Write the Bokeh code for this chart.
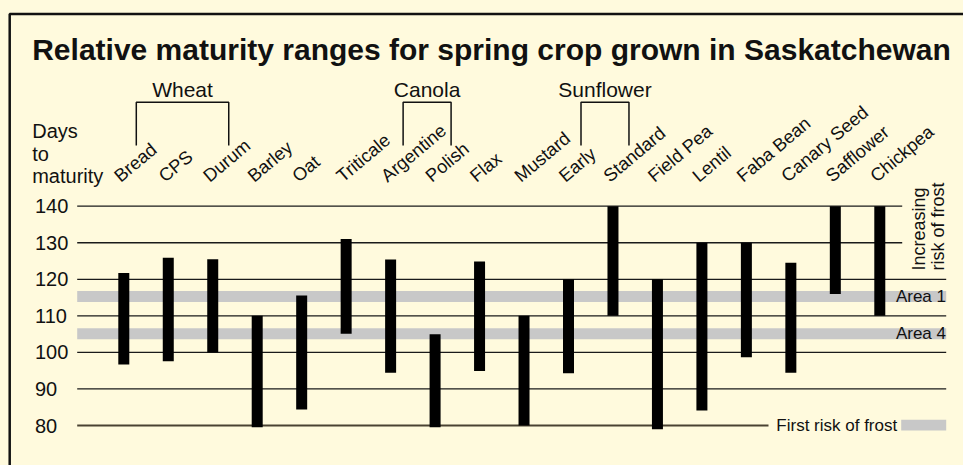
import math
from bokeh.plotting import figure
from bokeh.models import Range1d, ColumnDataSource
from bokeh.core.properties import value
from bokeh.embed import file_html
from bokeh.resources import INLINE

# ---------------- data ----------------
crops = ["Bread", "CPS", "Durum", "Barley", "Oat", "Triticale", "Argentine", "Polish",
         "Flax", "Mustard", "Early", "Standard", "Field Pea", "Lentil", "Faba Bean",
         "Canary Seed", "Safflower", "Chickpea"]
min_days = [96.7, 97.6, 100, 79.5, 84.4, 105.1, 94.4, 79.5, 94.9, 80, 94.3, 110,
            79, 84.1, 98.7, 94.4, 116, 110]
max_days = [121.7, 125.9, 125.5, 110, 115.6, 131, 125.4, 105, 124.9, 110, 120, 140,
            120, 130, 130, 124.5, 140, 140]
groups = ["Wheat", "Canola", "Sunflower"]
group_first = ["Bread", "Argentine", "Early"]
group_last = ["Durum", "Polish", "Standard"]
y_ticks = [80, 90, 100, 110, 120, 130, 140]
frost_areas = ["Area 1", "Area 4"]
frost_low = [113.8, 103.6]
frost_high = [116.8, 106.6]
title = "Relative maturity ranges for spring crop grown in Saskatchewan"

# ---------------- layout helpers ----------------
W, H = 963, 465
PX_CAT = 44.47      # pixels per category
PX_DAY = 3.655      # pixels per day
X0 = 123.3          # page x of first category
Y80 = 425.0         # page y of 80 days
MID = 0.358         # baseline -> cap-middle offset (em)


def fx(page_x):
    return (page_x - X0) / PX_CAT


def fy(page_y):
    return 80 + (Y80 - page_y) / PX_DAY


def dx(px):
    return px / PX_CAT


BG = "#fffadd"
FONT = value("Liberation Sans")
INK = "#111111"

p = figure(width=W, height=H, output_backend="svg", toolbar_location=None,
           x_range=Range1d(fx(0), fx(W)),
           y_range=Range1d(fy(H), fy(0)),
           x_axis_location=None, y_axis_location=None, min_border=0)
p.grid.visible = False
p.outline_line_color = None
p.background_fill_color = BG
p.border_fill_color = BG

# frame lines (left and top)
p.line(x=[fx(9.2), fx(9.2), fx(975)], y=[fy(480), fy(13.5), fy(13.5)],
       line_color=INK, line_width=2.5)

# frost bands
p.quad(left=fx(76.7), right=fx(945.7), bottom=frost_low, top=frost_high,
       fill_color="#c8c8c8", line_color=None)

# grid lines
gx0, gx1, gy, gc, gw = [], [], [], [], []
for t in y_ticks:
    gx0.append(fx(76.7))
    if t >= 130:
        gx1.append(fx(901.7))
    elif t == min(y_ticks):
        gx1.append(fx(768))
    else:
        gx1.append(fx(945.7))
    gy.append(t)
    gc.append("#4a4232" if t == min(y_ticks) else "#1a1a1a")
    gw.append(2.0 if t == min(y_ticks) else 1.3)
p.segment(x0=gx0, x1=gx1, y0=gy, y1=gy, line_color=gc, line_width=gw)

# tick labels
p.text(x=[fx(34.5)] * len(y_ticks), y=y_ticks, text=[str(t) for t in y_ticks],
       text_font=FONT, text_font_size="20px", text_color=INK,
       text_align="left", text_baseline="middle")

# axis title
s = 20
p.text(x=[fx(31.7)] * 3,
       y=[fy(137.7 - MID * s), fy(160.5 - MID * s), fy(182.7 - MID * s)],
       text=["Days", "to", "maturity"], text_font=FONT, text_font_size="%dpx" % s,
       text_color=INK, text_align="left", text_baseline="middle")

# main title
s = 30
p.text(x=[fx(31.7)], y=[fy(60 - MID * s)], text=[title], text_font=FONT,
       text_font_size="%dpx" % s, text_font_style="bold", text_color=INK,
       text_align="left", text_baseline="middle")

# bars
idx = list(range(len(crops)))
src = ColumnDataSource(dict(x=idx, lo=min_days, hi=max_days, name=crops))
p.vbar(x="x", width=dx(11), bottom="lo", top="hi", source=src,
       fill_color="#000000", line_color=None)

# category labels (rotated)
s = 18.3
th = math.radians(40)
off = MID * s
p.text(x=[i + dx(-3 - off * math.sin(th)) for i in idx],
       y=[fy(182.5 - off * math.cos(th))] * len(idx), text=crops,
       angle=th, text_font=FONT, text_font_size="%gpx" % s,
       text_color=INK, text_align="left", text_baseline="middle")

# group brackets
bxs, bys, gcx = [], [], []
for g, a, b in zip(groups, group_first, group_last):
    xl = crops.index(a) + dx(12.5)
    xr = crops.index(b) + dx(16)
    bxs.append([xl, xl, xr, xr])
    bys.append([fy(145), fy(101.7), fy(101.7), fy(145)])
    gcx.append((xl + xr) / 2)
p.multi_line(xs=bxs, ys=bys, line_color=INK, line_width=1.5)
s = 21
p.text(x=gcx, y=[fy(96.7 - MID * s)] * len(groups), text=groups, text_font=FONT,
       text_font_size="%dpx" % s, text_color=INK, text_align="center",
       text_baseline="middle")

# right side notes
s = 18
p.text(x=[fx(925 - MID * s), fx(944 - MID * s)], y=[fy(270), fy(270)],
       text=["Increasing", "risk of frost"], angle=math.pi / 2, text_font=FONT,
       text_font_size="%dpx" % s, text_color=INK, text_align="left",
       text_baseline="middle")
p.text(x=[fx(945.5)] * len(frost_areas),
       y=[(a + b) / 2 for a, b in zip(frost_low, frost_high)], text=frost_areas,
       text_font=FONT, text_font_size="17px", text_color=INK,
       text_align="right", text_baseline="middle")

# legend
p.text(x=[fx(896.7)], y=[min(y_ticks)], text=["First risk of frost"],
       text_font=FONT, text_font_size="17px", text_color=INK,
       text_align="right", text_baseline="middle")
p.quad(left=[fx(900.7)], right=[fx(945.7)], bottom=[fy(430)], top=[fy(419.3)],
       fill_color="#c8c8c8", line_color=None)

html = file_html(p, INLINE)
html = html.replace("</head>",
                    "<style>html, body { background-color: %s; }</style></head>" % BG, 1)
open("out.html", "w").write(html)
